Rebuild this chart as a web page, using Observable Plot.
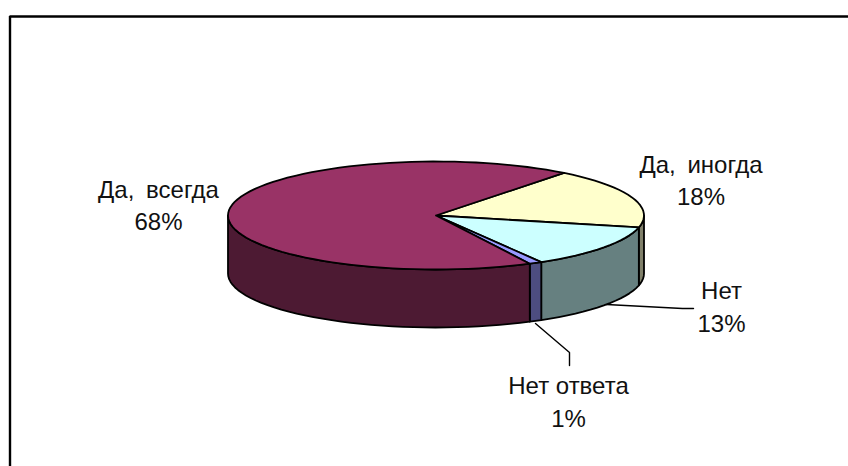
<!DOCTYPE html>
<html>
<head>
<meta charset="utf-8">
<script src="https://cdn.jsdelivr.net/npm/d3@7"></script>
<script src="https://cdn.jsdelivr.net/npm/@observablehq/plot@0.6"></script>
<style>
html,body{margin:0;padding:0;background:#fff}
svg{display:block}
.wide text, g.wide{word-spacing:5px}
</style>
</head>
<body>
<div id="chart"></div>
<script>
// Data (clockwise from the first slice)
const categories = ["Да, иногда", "Нет", "Нет ответа", "Да, всегда"];
const shares = [18, 13, 1, 68];
const topColors = ["#FFFFCC", "#CCFFFF", "#9999FF", "#993366"];
const sideColors = ["#80806A", "#668080", "#4D4D80", "#4D1A33"];

// Layout
const W = 848, H = 466;
const pie = {cx: 435.5, cy: 215, rx: 208, ry: 54, depth: 58, start: 38, step: 3};
const labelLayout = [
  {x: 700.5, y1: 165, y2: 197},
  {x: 721, y1: 291, y2: 324},
  {x: 568, y1: 386, y2: 419},
  {x: 158, y1: 190, y2: 222}
];
const leaders = [
  {k: 1, pts: [[606, 304], [682, 308], [693, 308]]},
  {k: 2, pts: [[535, 323], [569, 352], [569, 365]]}
];

const at = (a, dy = 0) => {
  const t = (90 - a) * Math.PI / 180;
  return {x: pie.cx + pie.rx * Math.cos(t), y: pie.cy - pie.ry * Math.sin(t) + dy};
};
const arc = (a0, a1, dy = 0) => {
  const n = Math.max(1, Math.ceil((a1 - a0) / pie.step));
  return d3.range(n + 1).map(i => at(a0 + (a1 - a0) * i / n, dy));
};

let acc = pie.start;
const slices = shares.map((s, i) => {
  const a0 = acc, a1 = acc + s * 3.6;
  acc = a1;
  return {i, a0, a1};
});

const walls = slices.map(({i, a0, a1}) => {
  const lo = Math.max(a0, 90), hi = Math.min(a1, 270);
  if (hi <= lo) return null;
  const top = arc(lo, hi), bottom = arc(lo, hi, pie.depth).reverse();
  const pts = [...top, ...bottom, top[0]];
  return Plot.line(pts, {x: "x", y: "y", fill: sideColors[i], stroke: "#000", strokeWidth: 1.8, strokeLinejoin: "round"});
}).filter(Boolean);

const tops = slices.map(({i, a0, a1}) => {
  const c = {x: pie.cx, y: pie.cy};
  const pts = [c, ...arc(a0, a1), c];
  return Plot.line(pts, {x: "x", y: "y", fill: topColors[i], stroke: "#000", strokeWidth: 1.8, strokeLinejoin: "round"});
});

const leaderMarks = leaders.map(l =>
  Plot.line(l.pts, {x: d => d[0], y: d => d[1], stroke: "#000", strokeWidth: 1.4})
);

const textOpts = {fontSize: 24, fontFamily: "'Liberation Sans', Arial, sans-serif", fill: "#111", textAnchor: "middle", lineAnchor: "middle"};
const catIndex = d => categories.indexOf(d);

const chart = Plot.plot({
  width: W, height: H,
  margin: 0,
  style: {background: "#fff", overflow: "hidden"},
  x: {domain: [0, W], range: [0, W], axis: null},
  y: {domain: [0, H], range: [0, H], axis: null},
  marks: [
    Plot.ruleY([16], {x1: 9.5, x2: W, stroke: "#000", strokeWidth: 2.4}),
    Plot.ruleX([9.5], {y1: 16, y2: H, stroke: "#000", strokeWidth: 2.4}),
    ...leaderMarks,
    ...walls,
    ...tops,
    Plot.text(categories.filter(d => d.includes(",")), {x: d => labelLayout[catIndex(d)].x, y: d => labelLayout[catIndex(d)].y1, text: d => d, className: "wide", ...textOpts}),
    Plot.text(categories.filter(d => !d.includes(",")), {x: d => labelLayout[catIndex(d)].x, y: d => labelLayout[catIndex(d)].y1, text: d => d, ...textOpts}),
    Plot.text(shares, {x: (d, i) => labelLayout[i].x, y: (d, i) => labelLayout[i].y2, text: d => d + "%", ...textOpts})
  ]
});
document.getElementById("chart").append(chart);
</script>
</body>
</html>
